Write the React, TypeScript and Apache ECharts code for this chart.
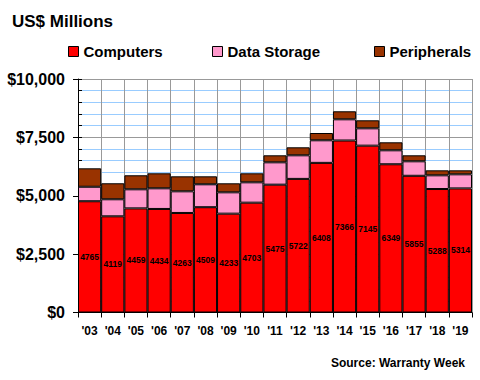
import React, { useEffect, useRef } from "react";
import * as echarts from "echarts";

const years = ["'03", "'04", "'05", "'06", "'07", "'08", "'09", "'10", "'11", "'12", "'13", "'14", "'15", "'16", "'17", "'18", "'19"];
const computers = [4765, 4119, 4459, 4434, 4263, 4509, 4233, 4703, 5475, 5722, 6408, 7366, 7145, 6349, 5855, 5288, 5314];
const dataStorage = [620, 730, 817, 885, 927, 981, 914, 872, 957, 1010, 967, 908, 743, 597, 620, 587, 604];
const peripherals = [790, 685, 600, 642, 642, 342, 386, 386, 300, 343, 312, 343, 343, 343, 257, 214, 171];
const yTicks = [0, 2500, 5000, 7500, 10000];

const FONT = "'Liberation Sans', Arial, sans-serif";

export default function App() {
  const ref = useRef<HTMLDivElement>(null);
  useEffect(() => {
    if (!ref.current) return;
    const chart = echarts.init(ref.current, null, { renderer: "svg" });
    const legendText = { fontFamily: FONT, fontWeight: "bold" as const, fontSize: 15, color: "#000" };
    const mkLegend = (name: string, left: number) => ({
      data: [name],
      left,
      top: 39,
      icon: "rect",
      itemWidth: 10,
      itemHeight: 10,
      itemGap: 0,
      selectedMode: false,
      textStyle: legendText,
      itemStyle: { borderColor: "#000", borderWidth: 1 },
    });
    const barBase = {
      type: "bar" as const,
      stack: "total",
      barWidth: "100%",
      barCategoryGap: "0%",
      itemStyle: { borderColor: "#000", borderWidth: 1 },
      emphasis: { disabled: true },
    };
    chart.setOption({
      animation: false,
      backgroundColor: "#fff",
      title: {
        text: "US$ Millions",
        left: 7,
        top: 8,
        textStyle: { fontFamily: FONT, fontWeight: "bold", fontSize: 17, color: "#000" },
      },
      legend: [mkLegend("Computers", 63), mkLegend("Data Storage", 207), mkLegend("Peripherals", 369)],
      grid: { left: 78, right: 8, top: 79, bottom: 67.5 },
      xAxis: {
        type: "category",
        data: years,
        boundaryGap: true,
        axisLine: { lineStyle: { color: "#000", width: 1 } },
        axisTick: { show: true, interval: 0, length: 5, lineStyle: { color: "#000" } },
        axisLabel: { interval: 0, margin: 12, fontFamily: FONT, fontWeight: "bold", fontSize: 12, color: "#000" },
        splitLine: { show: true, interval: 0, lineStyle: { color: "#999", width: 1 } },
      },
      yAxis: [
        {
          type: "value",
          min: yTicks[0],
          max: yTicks[yTicks.length - 1],
          interval: 2500,
          axisLine: { show: true, lineStyle: { color: "#000", width: 1 } },
          axisTick: { show: true, length: 5, lineStyle: { color: "#000" } },
          axisLabel: {
            margin: 13,
            fontFamily: FONT,
            fontWeight: "bold",
            fontSize: 16,
            color: "#000",
            formatter: (v: number) => "$" + v.toLocaleString("en-US"),
          },
          splitLine: { show: true, lineStyle: { color: "#999", width: 1 } },
          minorTick: { show: false, splitNumber: 5 },
          minorSplitLine: { show: true, lineStyle: { color: "#99ccff", width: 1 } },
        },
        {
          type: "value",
          position: "left",
          offset: 0,
          min: 0,
          max: 10000,
          interval: 500,
          axisLine: { show: false },
          axisTick: { show: true, inside: true, length: 4, lineStyle: { color: "#000" } },
          axisLabel: { show: false },
          splitLine: { show: false },
        },
      ],
      series: [
        {
          ...barBase,
          name: "Computers",
          data: computers,
          itemStyle: { color: "#ff0000", borderColor: "#000", borderWidth: 1 },
          label: {
            show: true,
            position: "inside",
            fontFamily: FONT,
            fontWeight: "bold",
            fontSize: 8.5,
            color: "#000",
            textBorderWidth: 0,
          },
        },
        {
          ...barBase,
          name: "Data Storage",
          data: dataStorage,
          itemStyle: { color: "#ff99cc", borderColor: "#000", borderWidth: 1 },
        },
        {
          ...barBase,
          name: "Peripherals",
          data: peripherals,
          itemStyle: { color: "#993300", borderColor: "#000", borderWidth: 1 },
        },
      ],
      graphic: [
        {
          type: "text",
          right: 15,
          top: 357,
          style: {
            text: "Source: Warranty Week",
            fontFamily: FONT,
            fontWeight: "bold",
            fontSize: 12,
            fill: "#000",
          },
        },
      ],
    });
    return () => chart.dispose();
  }, []);
  return (
    <div
      ref={ref}
      style={{ position: "fixed", left: 0, top: 0, width: 480, height: 380, background: "#fff" }}
    />
  );
}
